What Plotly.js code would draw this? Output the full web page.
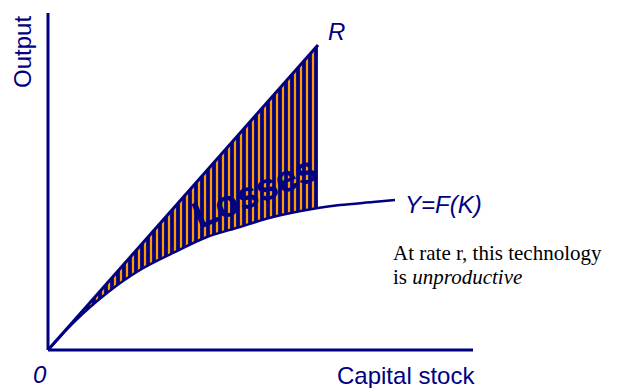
<!DOCTYPE html>
<html>
<head>
<meta charset="utf-8">
<script src="https://cdn.plot.ly/plotly-3.0.1.min.js"></script>
<style>html,body{margin:0;padding:0;background:#fff}#chart{width:618px;height:388px}</style>
</head>
<body>
<div id="chart"></div>
<script>
// Capital stock (K) and output, in chart units
const kCurve = [0, 25, 59, 92, 125, 159, 192, 225, 270, 292, 325, 347];
const yCurve = [0, 27, 57, 80, 97, 113, 123, 133, 142, 145, 148, 150];
const kRate = [0, 270];
const yRate = [0, 305];
const axisEnd = {k: 425, y: 337};

const navy = '#000080';
const orange = '#FF9900';

const kMax = kRate[kRate.length - 1];
const lossK = [], lossY = [];
for (let i = 0; i < kCurve.length; i++) {
  if (kCurve[i] <= kMax) { lossK.push(kCurve[i]); lossY.push(yCurve[i]); }
}

const traces = [
  {x: lossK, y: lossY, mode: 'lines', line: {width: 0, color: navy, shape: 'spline', smoothing: 1},
   hoverinfo: 'skip', showlegend: false},
  {x: kRate, y: yRate, mode: 'lines', fill: 'tonexty', line: {width: 0, color: navy},
   fillcolor: navy,
   fillpattern: {shape: '|', fgcolor: orange, bgcolor: navy, size: 6, solidity: 0.38},
   hoverinfo: 'skip', showlegend: false},
  {x: kRate, y: yRate, mode: 'lines', line: {color: navy, width: 3}, showlegend: false, hoverinfo: 'skip'},
  {x: kCurve, y: yCurve, mode: 'lines', line: {color: navy, width: 2.5, shape: 'spline', smoothing: 1}, showlegend: false, hoverinfo: 'skip'}
];

const sans = 'Liberation Sans, Arial, sans-serif';
const serif = 'Liberation Serif, Times New Roman, serif';

// pixel -> paper helpers for labels placed outside the plotting area
const W = 578, H = 358, L = 40;
const px = p => (p - L) / W;
const py = p => (H - p) / H;

const layout = {
  width: 618, height: 388,
  margin: {l: 40, r: 0, t: 0, b: 30},
  paper_bgcolor: '#fff', plot_bgcolor: '#fff',
  showlegend: false,
  xaxis: {range: [-8, 570], visible: false, fixedrange: true},
  yaxis: {range: [-8, 350], visible: false, fixedrange: true},
  shapes: [
    {type: 'line', xref: 'x', yref: 'y', x0: 0, y0: 0, x1: 0, y1: axisEnd.y, line: {color: navy, width: 3}},
    {type: 'line', xref: 'x', yref: 'y', x0: 0, y0: 0, x1: axisEnd.k, y1: 0, line: {color: navy, width: 3}}
  ],
  annotations: [
    {x: px(23), y: py(52), xref: 'paper', yref: 'paper', xanchor: 'center', yanchor: 'middle',
     text: 'Output', textangle: -90, showarrow: false,
     font: {family: sans, size: 24, color: navy}},
    {x: px(406), y: py(375), xref: 'paper', yref: 'paper', xanchor: 'center', yanchor: 'middle',
     text: 'Capital stock', showarrow: false,
     font: {family: sans, size: 24, color: navy}},
    {x: px(40), y: py(374), xref: 'paper', yref: 'paper', xanchor: 'center', yanchor: 'middle',
     text: '<i>0</i>', showarrow: false,
     font: {family: sans, size: 24, color: navy}},
    {x: 288, y: 319, xref: 'x', yref: 'y', text: '<i>R</i>', showarrow: false,
     font: {family: sans, size: 24, color: navy}},
    {x: 355, y: 146, xref: 'x', yref: 'y', xanchor: 'left', text: '<i>Y=F(K)</i>', showarrow: false,
     font: {family: sans, size: 24, color: navy}},
    {x: 343, y: 97, xref: 'x', yref: 'y', xanchor: 'left', text: 'At rate r, this technology', showarrow: false,
     font: {family: serif, size: 21, color: '#000'}},
    {x: 343, y: 73, xref: 'x', yref: 'y', xanchor: 'left', text: 'is <i>unproductive</i>', showarrow: false,
     font: {family: serif, size: 21, color: '#000'}},
    {x: 206, y: 158, xref: 'x', yref: 'y', text: '<b>Losses</b>', textangle: -23, showarrow: false,
     font: {family: sans, size: 38, color: navy}}
  ]
};

Plotly.newPlot('chart', traces, layout, {displayModeBar: false, staticPlot: true});
</script>
</body>
</html>
